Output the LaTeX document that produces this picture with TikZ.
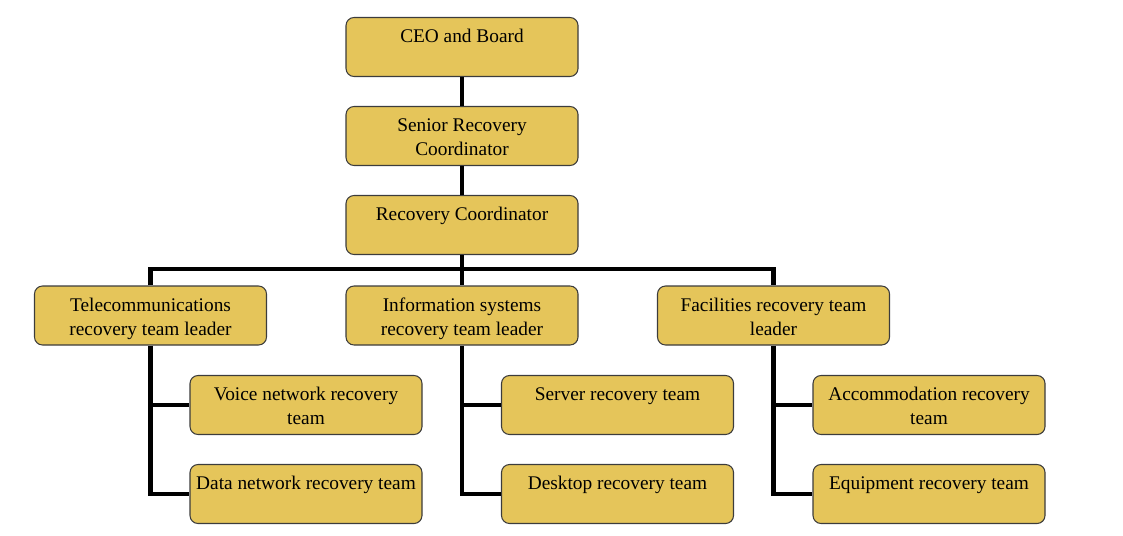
\documentclass[tikz,border=0pt]{standalone}
\usepackage{fontspec}
\setmainfont{Liberation Serif}
\usetikzlibrary{positioning}

\definecolor{boxgold}{RGB}{229,197,90}
\definecolor{boxedge}{RGB}{60,60,60}

\newcommand{\boxtxt}[1]{\parbox[t][33pt][t]{172pt}{\centering\rule{0pt}{13.3pt}#1}}

\begin{document}
\begin{tikzpicture}[x=0.75pt, y=-0.75pt,
    team/.style={draw=boxedge, line width=0.8pt, fill=boxgold, rounded corners=6pt,
        minimum width=174pt, minimum height=44.25pt, inner xsep=1pt, inner ysep=5.6pt,
        font=\fontsize{14.5}{18}\selectfont},
    link/.style={line width=3.6pt}]
        \useasboundingbox (0,0) rectangle (1123,535);

        % Top of the chain
        \node[team] (ceo) at (462,47) {\boxtxt{CEO and Board}};
        \node[team] (senior) at (462,136) {\boxtxt{Senior Recovery\\Coordinator}};
        \node[team] (coord) at (462,225) {\boxtxt{Recovery Coordinator}};

        % Team leaders
        \node[team] (tele) at (150.5,315.5) {\boxtxt{Telecommunications\\recovery team leader}};
        \node[team] (info) at (462,315.5) {\boxtxt{Information systems\\recovery team leader}};
        \node[team] (fac) at (773.5,315.5) {\boxtxt{Facilities recovery team\\leader}};

        % Teams
        \node[team] (voice) at (306,405) {\boxtxt{Voice network recovery\\team}};
        \node[team] (data) at (306,494) {\boxtxt{Data network recovery team}};
        \node[team] (server) at (617.5,405) {\boxtxt{Server recovery team}};
        \node[team] (desk) at (617.5,494) {\boxtxt{Desktop recovery team}};
        \node[team] (accom) at (929,405) {\boxtxt{Accommodation recovery\\team}};
        \node[team] (equip) at (929,494) {\boxtxt{Equipment recovery team}};

        % Links
        \coordinate (hub) at (462,269);
        \draw[link] (ceo) -- (senior);
        \draw[link] (senior) -- (coord);
        \draw[link] (coord) -- (hub);
        \draw[link] (tele.north) |- (hub) -| (fac.north);
        \draw[link] (hub) -- (info);

        \draw[link] (tele.south) |- (data.west);
        \draw[link] (tele.south |- voice.west) -- (voice.west);
        \draw[link] (info.south) |- (desk.west);
        \draw[link] (info.south |- server.west) -- (server.west);
        \draw[link] (fac.south) |- (equip.west);
        \draw[link] (fac.south |- accom.west) -- (accom.west);
\end{tikzpicture}
\end{document}
